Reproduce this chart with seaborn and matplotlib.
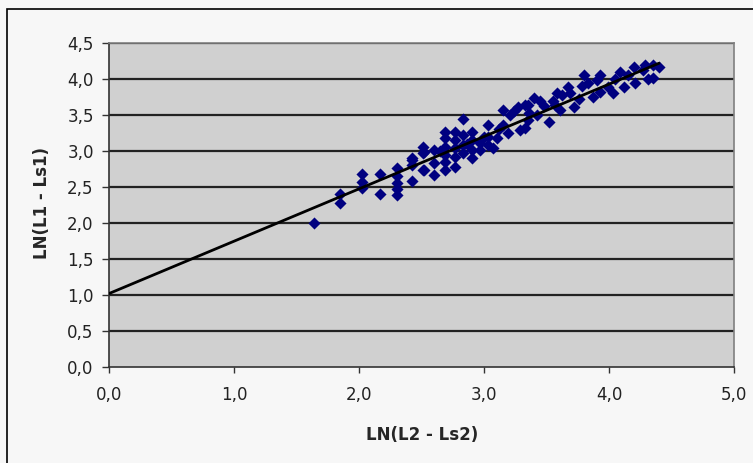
import matplotlib
matplotlib.use("Agg")
import matplotlib.pyplot as plt
import seaborn as sns
import numpy as np
import pandas as pd
from matplotlib.ticker import FuncFormatter
from matplotlib.patches import Rectangle

# Data: x = LN(L2 - Ls2), y = LN(L1 - Ls1)
x_vals = [1.64, 1.85, 1.85, 2.02, 2.02, 2.02, 2.17, 2.17, 2.30, 2.30, 2.30, 2.30, 2.30,
          2.42, 2.42, 2.42, 2.42, 2.52, 2.52, 2.51, 2.51, 2.51, 2.60, 2.60, 2.60,
          2.69, 2.69, 2.69, 2.69, 2.69, 2.69, 2.77, 2.77, 2.77, 2.77, 2.77,
          2.83, 2.83, 2.83, 2.83, 2.90, 2.90, 2.90, 2.90, 2.97, 2.97,
          3.03, 3.03, 3.03, 3.07, 3.15, 3.15, 3.19, 3.21, 3.27, 3.29, 3.33, 3.35, 3.36,
          3.33, 3.35, 3.40, 3.42, 3.52, 3.55, 3.57, 3.61, 3.67, 3.69, 3.72,
          3.80, 3.83, 3.87, 3.93, 3.93, 3.99, 4.03, 4.09, 4.12, 4.20, 4.21,
          4.27, 4.31, 4.35, 4.40, 4.35, 4.29, 3.45, 3.62, 3.76, 3.10, 3.24, 3.48,
          3.90, 4.15, 3.00, 3.12, 2.65, 2.86, 3.58, 3.78, 4.05]
y_vals = [2.00, 2.40, 2.28, 2.68, 2.57, 2.49, 2.68, 2.40, 2.76, 2.65, 2.55, 2.47, 2.39,
          2.90, 2.59, 2.81, 2.88, 2.99, 2.74, 3.06, 2.97, 2.74, 3.01, 2.83, 2.67,
          3.26, 3.18, 3.06, 2.94, 2.85, 2.74, 3.26, 3.15, 3.04, 2.92, 2.78,
          3.44, 3.22, 3.08, 2.97, 3.26, 3.15, 3.01, 2.90, 3.11, 3.01,
          3.36, 3.08, 3.19, 3.04, 3.57, 3.36, 3.25, 3.50, 3.61, 3.29, 3.64, 3.43, 3.53,
          3.32, 3.64, 3.74, 3.50, 3.40, 3.70, 3.64, 3.57, 3.89, 3.81, 3.61,
          4.06, 3.94, 3.75, 4.06, 3.82, 3.89, 3.81, 4.10, 3.89, 4.17, 3.94,
          4.12, 4.00, 4.19, 4.17, 4.01, 4.19, 3.70, 3.78, 3.72, 3.18, 3.55, 3.62,
          3.98, 4.05, 3.20, 3.30, 3.00, 3.10, 3.80, 3.90, 4.00]

# Trend line
trend_intercept = 1.02
trend_slope = 0.727

x_ticks = [0.0, 1.0, 2.0, 3.0, 4.0, 5.0]
y_ticks = [0.0, 0.5, 1.0, 1.5, 2.0, 2.5, 3.0, 3.5, 4.0, 4.5]

df = pd.DataFrame({"x": x_vals, "y": y_vals})

sns.set_style("white")
plt.rcParams["font.family"] = ["DejaVu Sans"]

fig = plt.figure(figsize=(7.53, 4.63), dpi=100, facecolor="#f7f7f7")
fig.patches.append(Rectangle((0.009, -0.02), 1.2, 1.0 - 0.019 + 0.02, transform=fig.transFigure,
                             fill=False, edgecolor="black", linewidth=1.2))
ax = fig.add_axes([109 / 753, 1 - 367 / 463, (734 - 109) / 753, (367 - 43) / 463])
ax.set_facecolor("#d0d0d0")

for yv in y_ticks[1:]:
    ax.axhline(yv, color="#222222", linewidth=1.6, zorder=1)

sns.scatterplot(data=df, x="x", y="y", marker="D", s=38, color="#000080",
                edgecolor="#000080", linewidth=0, ax=ax, zorder=3)

line_x = np.array([0.0, max(x_vals)])
ax.plot(line_x, trend_intercept + trend_slope * line_x, color="black", linewidth=2.0, zorder=4)

ax.set_xlim(0, 5)
ax.set_ylim(0, 4.5)
ax.set_xticks(x_ticks)
ax.set_yticks(y_ticks)
fmt = FuncFormatter(lambda v, p: f"{v:.1f}".replace(".", ","))
ax.xaxis.set_major_formatter(fmt)
ax.yaxis.set_major_formatter(fmt)
ax.tick_params(axis="both", direction="out", width=1, color="#333333",
               labelsize=12, labelcolor="#222222")
ax.tick_params(axis="x", length=4, pad=10)
ax.tick_params(axis="y", length=5, pad=6)
ax.tick_params(left=True, bottom=True)

for side in ["top", "right"]:
    ax.spines[side].set_color("#808080")
    ax.spines[side].set_linewidth(1.2)
for side in ["left", "bottom"]:
    ax.spines[side].set_color("#333333")
    ax.spines[side].set_linewidth(1.2)

ax.set_xlabel("LN(L2 - Ls2)", fontsize=12, fontweight="bold", va="center")
ax.set_ylabel("LN(L1 - Ls1)", fontsize=12, fontweight="bold", va="center")
ax.xaxis.set_label_coords((422 - 109) / 625, (367 - 435) / 324)
ax.yaxis.set_label_coords((42 - 109) / 625, (367 - 203) / 324)

fig.savefig("out.png", dpi=100, facecolor=fig.get_facecolor())
